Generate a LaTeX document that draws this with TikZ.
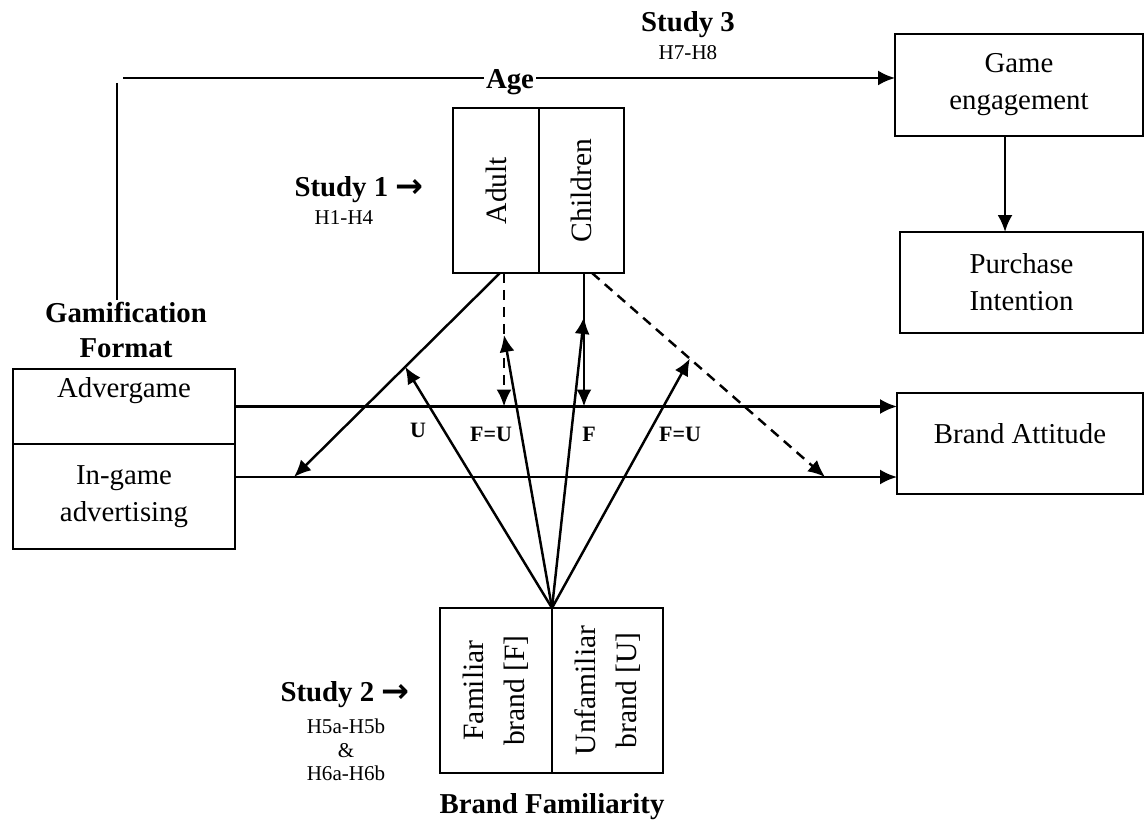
\documentclass[tikz,border=0pt]{standalone}
\usepackage{fontspec}
\setmainfont{Liberation Serif}
\newfontfamily\arrowfont{DejaVu Sans}
\usetikzlibrary{arrows.meta,positioning,calc}
\tikzset{
  box/.style={draw,line width=1.4pt,inner sep=0pt,outer sep=0pt,align=center,font=\fontsize{16.4}{21}\selectfont},
  rot/.style={box,font=\fontsize{16.8}{23.5}\selectfont},
  lbl/.style={font=\fontsize{16.4}{20.4}\selectfont\bfseries,align=center,inner sep=1pt},
  hyp/.style={font=\fontsize{12}{13.5}\selectfont,align=center,inner sep=1pt},
  sig/.style={font=\fontsize{12.5}{14}\selectfont\bfseries,inner sep=1pt},
  conn/.style={line width=1.4pt,-{Latex[length=0.34cm,width=0.3cm]}},
  dconn/.style={conn,dash pattern=on 0.2cm off 0.14cm},
}
\newcommand\studyarrow{{\arrowfont\bfseries\fontsize{19}{19}\selectfont\raisebox{-0.5pt}{→}}}
\begin{document}
\begin{tikzpicture}[x=0.02cm,y=-0.02cm]
\useasboundingbox (0,0) rectangle (1145,820);

% boxes on the right
\node[box,minimum width=4.96cm,minimum height=2.04cm] (engage) at (1019,85) {Game\\engagement};
\node[box,minimum width=4.86cm,minimum height=2.02cm] (purchase) at (1021.5,282.5) {Purchase\\Intention};
\node[box,minimum width=4.92cm,minimum height=2.02cm,text depth=0.4cm] (attitude) at (1020,443.5) {Brand Attitude};

% gamification format
\node[box,minimum width=4.44cm,minimum height=1.5cm,text depth=0.75cm] (adv) at (124,406.5) {Advergame};
\node[box,minimum width=4.44cm,minimum height=2.1cm,below=0pt of adv] (ingame) {In-game\\advertising};

% age
\node[rot,minimum width=1.72cm,minimum height=3.3cm] (adult) at (496,190.5) {\rotatebox{90}{Adult}};
\node[rot,minimum width=1.70cm,minimum height=3.3cm,right=0pt of adult] (child) {\rotatebox{90}{Children}};

% brand familiarity
\node[rot,minimum width=2.24cm,minimum height=3.3cm] (fam) at (496,690.5) {\rotatebox{90}{\begin{tabular}{@{}c@{}}Familiar\\brand [F]\end{tabular}}};
\node[rot,minimum width=2.22cm,minimum height=3.3cm,right=0pt of fam] (unfam) {\rotatebox{90}{\begin{tabular}{@{}c@{}}Unfamiliar\\brand [U]\end{tabular}}};

% labels
\node[lbl] (study3) at (688,25) {Study 3};
\node[hyp] (h78) at (688,53) {H7-H8};
\node[lbl] (age) at (510,82) {Age};
\node[lbl] (gamif) at (126,330) {Gamification\\Format};
\node[lbl] (study1) at (359,190) {Study 1 \studyarrow};
\node[hyp] (h14) at (344,218) {H1-H4};
\node[lbl] (study2) at (345,695) {Study 2 \studyarrow};
\node[hyp] (h56) at (346,750) {H5a-H5b\\\&\\H6a-H6b};
\node[lbl] (bfam) at (552,807) {Brand Familiarity};

\node[sig] (sU) at (418,430) {U};
\node[sig] (sFU1) at (491,434) {F=U};
\node[sig] (sF) at (589,434) {F};
\node[sig] (sFU2) at (680,434) {F=U};

% study 3 path
\coordinate (ageL) at (123,78);
\coordinate (gfTop) at (117,83);
\draw[line width=1.4pt] (ageL) -- (ageL -| age.west);
\draw[conn] (ageL -| age.east) -- (ageL -| engage.west);
\draw[line width=1.4pt] (gfTop) -- (gfTop |- gamif.north);
\coordinate (gp) at (1005,136);
\draw[conn] (gp) -- (gp |- purchase.north);

% format to attitude
\coordinate (igR) at (235,477);
\draw[conn] (adv.east) -- (adv.east -| attitude.west);
\draw[conn] (igR) -- (igR -| attitude.west);

% age effects
\coordinate (aL) at ($(adult.south)+(4,0)$);
\coordinate (aM) at ($(adult.south)+(8,0)$);
\coordinate (cM) at ($(child.south)+(2.5,0)$);
\coordinate (cR) at ($(child.south)+(10.5,0)$);
\coordinate (dL) at (294,477);
\coordinate (dR) at (825,477);
\draw[conn] (aL) -- (dL);
\draw[dconn] (aM) -- (aM |- adv.east);
\draw[conn] (cM) -- (cM |- adv.east);
\draw[dconn] (cR) -- (dR);

% familiarity effects
\coordinate (apex) at (fam.north east);
\draw[conn] (apex) -- ($(aL)!0.46!(dL)$);
\draw[conn] (apex) -- ($(aM)+(0,62)$);
\draw[conn] (apex) -- ($(cM)+(0,44)$);
\draw[conn] (apex) -- ($(cR)!0.42!(dR)$);
\end{tikzpicture}
\end{document}
